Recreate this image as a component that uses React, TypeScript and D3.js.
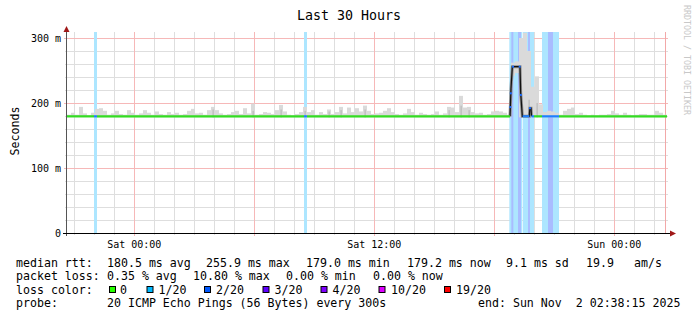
import React from 'react';
import * as d3 from 'd3';

const W = 697;
const H = 321;
const START = Date.UTC(2025, 9, 31, 20, 38, 15);
const END = Date.UTC(2025, 10, 2, 2, 38, 15);

// y axis ticks (seconds)
const yMajor = [0, 0.1, 0.2, 0.3];
const yMajorLabels = ['0', '100 m', '200 m', '300 m'];

// smoke: 150 bins of 12 minutes, top of the ping spread in ms
const smokeHigh = [
  182, 185, 182, 194, 184, 181, 185, 191, 192, 188,
  182, 184, 188, 183, 182, 189, 185, 182, 184, 189,
  185, 182, 187, 183, 182, 186, 183, 185, 182, 183,
  188, 191, 184, 185, 182, 189, 194, 189, 184, 182,
  183, 186, 188, 183, 192, 184, 199, 182, 183, 186,
  185, 183, 189, 197, 187, 182, 181, 183, 186, 194,
  186, 189, 182, 186, 183, 190, 183, 186, 194, 184,
  193, 186, 192, 187, 196, 188, 183, 184, 185, 188,
  192, 186, 183, 182, 184, 191, 186, 182, 185, 183,
  182, 183, 187, 182, 184, 194, 193, 186, 211, 193,
  194, 186, 184, 185, 182, 183, 187, 188, 187, 185,
  182, 262, 264, 300, 308, 280, 225, 241, 198, 186,
  188, 187, 185, 182, 188, 191, 193, 183, 185, 182,
  181, 182, 181, 182, 182, 183, 188, 184, 182, 185,
  182, 181, 182, 183, 183, 182, 182, 188, 185, 182,
];
const smokeBinMinutes = 12;
const smokeBase = 178;
const smokeLowBins = [111, 112];
const smokeLowValues = [242, 246];
// darker inner smoke
const smokeMidBins = [36, 46, 53, 59, 65, 68, 74, 95, 98, 100, 115, 117];
const smokeMidTop = [190, 188, 190, 188, 187, 189, 190, 189, 196, 189, 205, 200];

// median rtt (minutes from start, ms)
const medianMinutes = [0, 1329, 1332, 1336, 1359, 1361, 1366, 1387, 1388.5, 1392, 1393.5, 1800];
const medianMs = [179.5, 179.5, 222, 255.9, 255.9, 216, 179.5, 179.5, 192, 192, 179.5, 179.5];

// median line coloured by loss class
const segStart = [0, 81, 90, 711, 720, 1367, 1393.5, 1401, 1425, 1476];
const segEnd = [81, 90, 711, 720, 1329, 1387, 1401, 1425, 1476, 1800];
const segClass = [0, 1, 0, 1, 0, 1, 1, 0, 1, 0];

const dotMinutes = [1330, 1331.5, 1338, 1358, 1361.5, 1389];

// loss background bands
const lossStart = [81, 711, 1327, 1367, 1425, 1333, 1353, 1383, 1443];
const lossEnd = [90, 720, 1365, 1401, 1476, 1339, 1362, 1389, 1458];
const lossClass = [1, 1, 1, 1, 1, 2, 2, 2, 2];

const ruleMinute = 1795;

const legendLabels = ['0', '1/20', '2/20', '3/20', '4/20', '10/20', '19/20'];
const legendColors = ['#26ff00', '#00b8ff', '#0059ff', '#5e00ff', '#7e00ff', '#dd00ff', '#ff0000'];
const legendBoxX = [109, 146.5, 204, 262.5, 320.5, 378.5, 444];
const legendTextX = [120, 158.5, 216, 274.5, 332.5, 391, 456];

const rttLabels = ['median rtt:', '180.5 ms avg', '255.9 ms max', '179.0 ms min', '179.2 ms now', '9.1 ms sd', '19.9', 'am/s'];
const rttX = [16, 107, 206, 306, 407, 506, 586, 634];
const lossLabels = ['packet loss:', '0.35 % avg', '10.80 % max', '0.00 % min', '0.00 % now'];
const lossX = [16, 107, 193, 286, 373];
const probeLabels = ['probe:', '20 ICMP Echo Pings (56 Bytes) every 300s', 'end: Sun Nov  2 02:38:15 2025'];
const probeX = [16, 107, 478];

const bandFill: Record<number, string> = { 1: '#ade6ff', 2: '#a9bcff' };
const lineColor: Record<number, string> = { 0: '#33dd22', 1: '#1f80ff', 2: '#1a5cff' };

const MONO = "'DejaVu Sans Mono', monospace";

export default function App() {
  const x = d3.scaleUtc().domain([new Date(START), new Date(END)]).range([67, 667]);
  const xm = (m: number) => x(new Date(START + m * 60000));
  const y = d3.scaleLinear().domain([0, 0.3]).range([233, 38]);
  const ym = (ms: number) => y(ms / 1000);
  const medAt = d3.scaleLinear().domain(medianMinutes).range(medianMs);

  const hours = d3.utcHour.every(1)!.range(new Date(START), new Date(END));
  const majorHours = hours.filter((d) => d.getUTCHours() % 6 === 0);
  const minorHours = hours.filter((d) => d.getUTCHours() % 6 !== 0);
  const labelHours = hours.filter((d) => d.getUTCHours() % 12 === 0);
  const fmt = d3.utcFormat('%a %H:%M');

  const yMinor = d3.range(1, 15).filter((i) => i % 5 !== 0).map((i) => i * 0.02);

  const topY = 32;
  const line = d3.line<[number, number]>().x((d) => xm(d[0])).y((d) => ym(d[1]));
  const medPts: [number, number][] = medianMinutes.map((m, i) => [m, medianMs[i]]);
  const peakPts = medPts.filter((d) => d[0] >= 1300 && d[0] <= 1420);
  const pre = { whiteSpace: 'pre' as const };

  return (
    <svg width={W} height={H} style={{ display: 'block', position: 'absolute', left: 0, top: 0 }} fontFamily={MONO}>
      <rect x={0} y={0} width={W} height={H} fill="#fff" />
      {/* title */}
      <text x={349} y={20} textAnchor="middle" fontSize={13.3} fill="#000">Last 30 Hours</text>

      {/* grid */}
      {minorHours.map((d, i) => (
        <line key={'vm' + i} x1={Math.round(x(d)) + 0.5} x2={Math.round(x(d)) + 0.5} y1={topY} y2={235} stroke="#dedede" />
      ))}
      {yMinor.map((v, i) => (
        <line key={'hm' + i} x1={65} x2={668} y1={Math.round(y(v)) + 0.5} y2={Math.round(y(v)) + 0.5} stroke="#dedede" />
      ))}
      {majorHours.map((d, i) => (
        <line key={'vM' + i} x1={Math.round(x(d)) + 0.5} x2={Math.round(x(d)) + 0.5} y1={topY} y2={236} stroke="#f6b8b8" />
      ))}
      {yMajor.map((v, i) => (
        <line key={'hM' + i} x1={64} x2={668} y1={Math.round(y(v)) + 0.5} y2={Math.round(y(v)) + 0.5} stroke="#f6b8b8" />
      ))}
      <line x1={Math.round(xm(ruleMinute)) + 0.5} x2={Math.round(xm(ruleMinute)) + 0.5} y1={topY} y2={233} stroke="#f2a8a8" />

      {/* loss bands */}
      {lossStart.map((s, i) => (
        <rect key={'lb' + i} x={xm(s)} width={xm(lossEnd[i]) - xm(s)} y={topY} height={233 - topY} fill={bandFill[lossClass[i]]} />
      ))}

      {/* smoke */}
      {smokeHigh.map((top, i) => {
        const li = smokeLowBins.indexOf(i);
        const low = li >= 0 ? smokeLowValues[li] : smokeBase;
        const x0 = xm(i * smokeBinMinutes);
        const x1 = xm((i + 1) * smokeBinMinutes);
        const yt = Math.max(ym(top), topY);
        return <rect key={'sm' + i} x={x0} width={x1 - x0} y={yt} height={ym(low) - yt} fill="#dadada" />;
      })}
      {smokeMidBins.map((b, i) => {
        const x0 = xm(b * smokeBinMinutes + 4);
        const x1 = xm(b * smokeBinMinutes + 9);
        return <rect key={'sd' + i} x={x0} width={x1 - x0} y={ym(smokeMidTop[i])} height={ym(smokeBase) - ym(smokeMidTop[i])} fill="#c2c2c2" />;
      })}
      {/* dark smoke along peak */}
      <path d={line(peakPts) || ''} fill="none" stroke="#8a8a8a" strokeWidth={3} />

      {/* median */}
      <path d={line(peakPts) || ''} fill="none" stroke="#111" strokeWidth={1.2} />
      {segStart.map((s, i) => (
        <path
          key={'seg' + i}
          d={line([[s, medAt(s)], [segEnd[i], medAt(segEnd[i])]]) || ''}
          fill="none"
          stroke={lineColor[segClass[i]]}
          strokeWidth={2.2}
        />
      ))}
      {dotMinutes.map((m, i) => (
        <rect key={'dt' + i} x={xm(m) - 1} y={ym(medAt(m)) - 1} width={2} height={2} fill="#1a6cff" />
      ))}

      {/* axes */}
      <line x1={66.5} x2={66.5} y1={30} y2={236} stroke="#555" />
      <path d="M63.5,32 L66.5,26 L69.5,32 Z" fill="#a01818" />
      <line x1={63} x2={671} y1={233.5} y2={233.5} stroke="#000" />
      <path d="M670,230.5 L676,233.5 L670,236.5 Z" fill="#a01818" />

      {/* y labels */}
      {yMajor.map((v, i) => (
        <text key={'yl' + i} x={61} y={y(v) + 3.6} textAnchor="end" fontSize={10} fill="#000">{yMajorLabels[i]}</text>
      ))}
      <text transform="translate(18.5,131) rotate(-90)" textAnchor="middle" fontSize={11.6} fill="#000">Seconds</text>

      {/* x labels */}
      {labelHours.map((d, i) => (
        <text key={'xl' + i} x={x(d)} y={247.5} textAnchor="middle" fontSize={10} fill="#000">{fmt(d)}</text>
      ))}

      {/* watermark */}
      <text transform="translate(684,5) rotate(90)" fontSize={8.3} fill="#c8c8c8" style={pre}>RRDTOOL / TOBI OETIKER</text>

      {/* legend */}
      <g fontSize={11.6} fill="#000">
        {rttLabels.map((t, i) => (
          <text key={'r' + i} x={rttX[i]} y={266.5} style={pre} xmlSpace="preserve">{t}</text>
        ))}
        {lossLabels.map((t, i) => (
          <text key={'l' + i} x={lossX[i]} y={280} style={pre} xmlSpace="preserve">{t}</text>
        ))}
        <text x={16} y={293.5}>loss color:</text>
        {legendLabels.map((t, i) => (
          <g key={'lg' + i}>
            <rect x={legendBoxX[i] + 0.5} y={286.5} width={6} height={6} fill={legendColors[i]} stroke="#000" strokeWidth={1} />
            <text x={legendTextX[i]} y={293.5}>{t}</text>
          </g>
        ))}
        {probeLabels.map((t, i) => (
          <text key={'p' + i} x={probeX[i]} y={307} style={pre} xmlSpace="preserve">{t}</text>
        ))}
      </g>
    </svg>
  );
}
